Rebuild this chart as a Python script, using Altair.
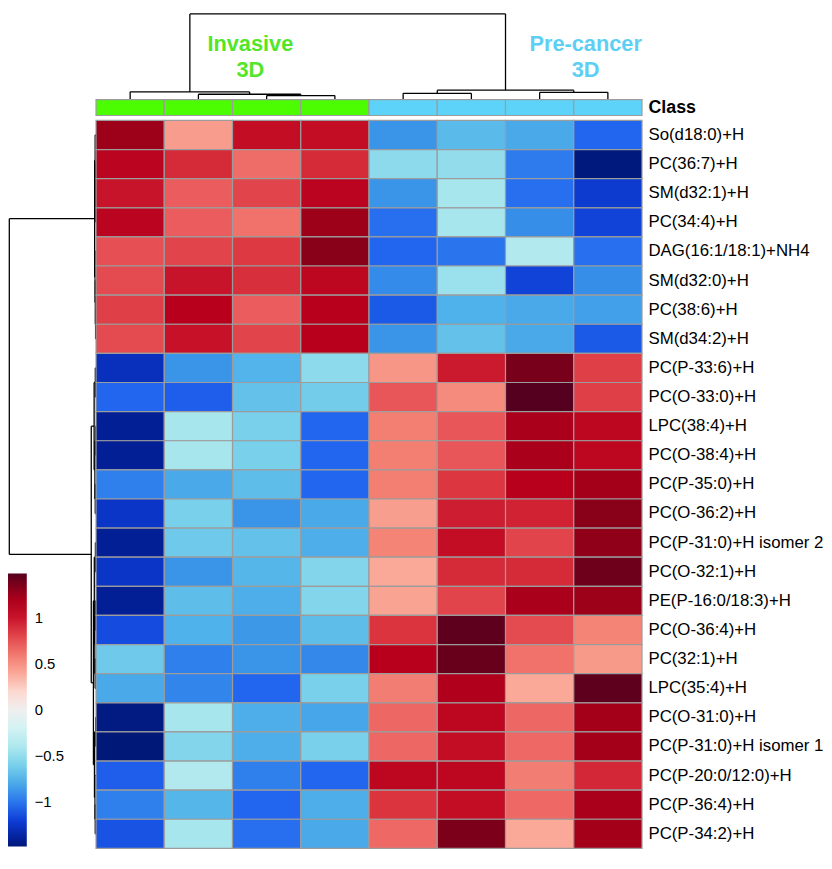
import altair as alt
import pandas as pd

# ---------------- data ----------------
features = ["So(d18:0)+H", "PC(36:7)+H", "SM(d32:1)+H", "PC(34:4)+H",
            "DAG(16:1/18:1)+NH4", "SM(d32:0)+H", "PC(38:6)+H", "SM(d34:2)+H",
            "PC(P-33:6)+H", "PC(O-33:0)+H", "LPC(38:4)+H", "PC(O-38:4)+H",
            "PC(P-35:0)+H", "PC(O-36:2)+H", "PC(P-31:0)+H isomer 2", "PC(O-32:1)+H",
            "PE(P-16:0/18:3)+H", "PC(O-36:4)+H", "PC(32:1)+H", "LPC(35:4)+H",
            "PC(O-31:0)+H", "PC(P-31:0)+H isomer 1", "PC(P-20:0/12:0)+H",
            "PC(P-36:4)+H", "PC(P-34:2)+H"]

samples = ["Inv3D_1", "Inv3D_2", "Inv3D_3", "Inv3D_4",
           "Pre3D_1", "Pre3D_2", "Pre3D_3", "Pre3D_4"]
sample_class = ["Invasive 3D"] * 4 + ["Pre-cancer 3D"] * 4
class_names = ["Invasive 3D", "Pre-cancer 3D"]

invasive_1 = [1.25, 1.12, 1.00, 1.12, 0.76, 0.78, 0.82, 0.78, -1.28, -1.05, -1.40, -1.40, -0.97,
              -1.25, -1.40, -1.25, -1.40, -1.15, -0.64, -0.80, -1.45, -1.48, -1.08, -0.97, -1.12]
invasive_2 = [0.45, 0.90, 0.72, 0.72, 0.80, 1.00, 1.15, 1.02, -0.90, -1.08, -0.42, -0.42, -0.80,
              -0.60, -0.64, -0.90, -0.70, -0.76, -0.97, -0.95, -0.42, -0.56, -0.38, -0.74, -0.42]
invasive_3 = [1.05, 0.65, 0.80, 0.63, 0.84, 0.88, 0.72, 0.80, -0.75, -0.68, -0.60, -0.60, -0.70,
              -0.90, -0.68, -0.74, -0.78, -0.88, -0.90, -1.05, -0.78, -0.78, -0.97, -1.05, -1.02]
invasive_4 = [1.05, 0.90, 1.12, 1.25, 1.32, 1.10, 1.15, 1.15, -0.52, -0.62, -1.05, -1.05, -1.05,
              -0.80, -0.78, -0.56, -0.56, -0.70, -0.94, -0.60, -0.82, -0.60, -1.05, -0.78, -0.80]
precancer_1 = [-0.90, -0.52, -0.90, -1.02, -1.05, -0.93, -1.10, -0.90, 0.48, 0.74, 0.57, 0.57, 0.57,
               0.44, 0.55, 0.40, 0.42, 0.86, 1.15, 0.58, 0.68, 0.68, 1.10, 0.86, 0.67]
precancer_2 = [-0.72, -0.50, -0.42, -0.42, -1.00, -0.47, -0.76, -0.68, 0.98, 0.52, 0.74, 0.74, 0.85,
               0.96, 1.05, 0.90, 0.80, 1.45, 1.42, 1.18, 1.10, 1.05, 1.10, 1.05, 1.36]
precancer_3 = [-0.80, -0.98, -1.02, -0.92, -0.38, -1.18, -0.80, -0.80, 1.37, 1.48, 1.20, 1.20, 1.15,
               0.94, 0.80, 0.90, 1.20, 0.78, 0.63, 0.40, 0.68, 0.67, 0.58, 0.67, 0.40]
precancer_4 = [-1.05, -1.47, -1.22, -1.18, -1.02, -0.92, -0.85, -1.10, 0.82, 0.82, 1.10, 1.10, 1.22,
               1.32, 1.30, 1.40, 1.25, 0.55, 0.46, 1.45, 1.22, 1.22, 0.92, 1.20, 1.22]
sample_values = [invasive_1, invasive_2, invasive_3, invasive_4,
                 precancer_1, precancer_2, precancer_3, precancer_4]

# column dendrogram (linkage: leaves 0..7, merge k creates node 8+k)
col_left = [2, 1, 0, 4, 6, 11, 10]
col_right = [3, 8, 9, 5, 7, 12, 13]
col_height = [0.47, 0.63, 0.91, 0.74, 0.85, 1.11, 10.0]

# row dendrogram (leaves 0..24, merge k creates node 25+k)
row_left = [2, 1, 0, 6, 5, 4, 27, 8, 10, 12, 33, 32, 14, 16, 18, 38, 37, 20, 23, 22, 42, 41, 36, 31]
row_right = [3, 25, 26, 7, 28, 29, 30, 9, 11, 13, 34, 35, 15, 17, 19, 39, 40, 21, 24, 43, 44, 45, 46, 47]
row_height = [0.04, 0.07, 0.10, 0.05, 0.08, 0.11, 0.16, 0.08, 0.03, 0.09, 0.13, 0.22,
              0.07, 0.08, 0.10, 0.14, 0.20, 0.04, 0.09, 0.12, 0.18, 0.30, 0.55, 10.0]

# ---------------- styles ----------------
cmap_stops = [-1.48, -1.35, -1.2, -1.05, -0.9, -0.75, -0.6, -0.4, -0.15, 0.0,
              0.2, 0.4, 0.55, 0.7, 0.85, 1.0, 1.15, 1.3, 1.48]
cmap_colors = ["#001878", "#0424a8", "#0e3ed6", "#2266f0", "#3a94e8", "#52b4ea", "#78d0ea",
               "#ade8ee", "#dcf4f4", "#efefef", "#fcd8d0", "#faa898", "#f48476", "#ec6262",
               "#dc3640", "#c8142a", "#b8001c", "#900018", "#54001e"]
class_colors = ["#4cfc00", "#5dd3fa"]
class_text_colors = ["#52e626", "#5ecff4"]
grid_col = "#9c9c9c"
FONT = "Liberation Sans"

W = 552      # heatmap width
Wl = 89      # left dendrogram width
Hd = 88      # top dendrogram height
Hc = 16      # class bar height
GAP = 5
H = 736      # heatmap height
nrow = len(features)
ncol = len(samples)
rowh = H / nrow
T = Hd + Hc + GAP + H
legend_top = round(15.55 * rowh)   # colour bar starts level with row ~15.5


def dendro_segments(n, left, right, height):
    pos = {i: i + 0.5 for i in range(n)}
    hgt = {i: 0.0 for i in range(n)}
    segs = []
    for k, (a, b, h) in enumerate(zip(left, right, height)):
        segs.append(dict(p1=pos[a], p2=pos[b], h1=h, h2=h))
        segs.append(dict(p1=pos[a], p2=pos[a], h1=hgt[a], h2=h))
        segs.append(dict(p1=pos[b], p2=pos[b], h1=hgt[b], h2=h))
        pos[n + k] = (pos[a] + pos[b]) / 2
        hgt[n + k] = h
    return pd.DataFrame(segs)


# long table for heatmap
rows = []
for j, (s, vals) in enumerate(zip(samples, sample_values)):
    for i, (f, v) in enumerate(zip(features, vals)):
        rows.append(dict(feature=f, sample=s, c0=j, c1=j + 1, value=v))
heat_df = pd.DataFrame(rows)

class_df = pd.DataFrame(dict(sample=samples, cls=sample_class,
                             c0=list(range(ncol)), c1=list(range(1, ncol + 1)),
                             lab=["Class"] * ncol))

grp = class_df.assign(mid=lambda d: (d.c0 + d.c1) / 2).groupby("cls", as_index=False)["mid"].mean()
grp["label"] = grp["cls"].str.replace(" ", "\n")

col_seg = dendro_segments(ncol, col_left, col_right, col_height)
row_seg = dendro_segments(nrow, row_left, row_right, row_height)

xcol = alt.Scale(domain=[0, ncol], nice=False, zero=False)

# ---------------- top dendrogram ----------------
top_rules = alt.Chart(col_seg).mark_rule(color="black", strokeWidth=1.3).encode(
    x=alt.X("p1:Q", scale=xcol, axis=None),
    x2="p2:Q",
    y=alt.Y("h1:Q", scale=alt.Scale(domain=[0, 10.15], nice=False, zero=False), axis=None),
    y2="h2:Q",
)


def group_text(name, color, dx):
    return alt.Chart(grp[grp.cls == name]).mark_text(
        font=FONT, fontSize=22, fontWeight="bold", color=color, lineBreak="\n",
        lineHeight=26, align="center", baseline="middle", dx=dx
    ).encode(
        x=alt.X("mid:Q", scale=xcol, axis=None),
        y=alt.value(32),
        text="label:N",
    )


top = alt.layer(
    top_rules,
    group_text(class_names[0], class_text_colors[0], 18),
    group_text(class_names[1], class_text_colors[1], 81),
).properties(width=W, height=Hd)

# ---------------- class bar (band sits at top of its panel, gap below) ----------------
pad_outer = ((Hc + GAP) / Hc - 1) / 2
classbar = alt.Chart(class_df).mark_rect(stroke=grid_col, strokeWidth=1.2).encode(
    x=alt.X("c0:Q", scale=xcol, axis=None),
    x2="c1:Q",
    y=alt.Y("lab:N", scale=alt.Scale(paddingInner=0, paddingOuter=pad_outer, align=0),
            axis=alt.Axis(orient="right", title=None, ticks=False, domain=False,
                          labelFontSize=18, labelFontWeight="bold", labelPadding=6,
                          labelColor="black", labelFont=FONT)),
    color=alt.Color("cls:N", scale=alt.Scale(domain=class_names, range=class_colors), legend=None),
).properties(width=W, height=Hc + GAP)

# ---------------- heatmap ----------------
heat = alt.Chart(heat_df).mark_rect(stroke=grid_col, strokeWidth=1.2).encode(
    x=alt.X("c0:Q", scale=xcol, axis=None),
    x2="c1:Q",
    y=alt.Y("feature:N", sort=features, scale=alt.Scale(paddingInner=0, paddingOuter=0),
            axis=alt.Axis(orient="right", title=None, ticks=False, domain=False,
                          labelFontSize=17, labelPadding=6, labelLimit=400,
                          labelColor="black", labelFont=FONT)),
    color=alt.Color("value:Q",
                    scale=alt.Scale(domain=cmap_stops, range=cmap_colors, interpolate="rgb"),
                    legend=alt.Legend(orient="none", legendX=-Wl, legendY=legend_top,
                                      direction="vertical", title=None,
                                      gradientLength=276, gradientThickness=19,
                                      gradientStrokeWidth=0,
                                      values=[-1, -0.5, 0, 0.5, 1], format="~g",
                                      labelFontSize=15, labelOffset=8, labelFont=FONT,
                                      labelColor="black", padding=0)),
).properties(width=W, height=H)

# ---------------- left dendrogram ----------------
ydom0 = -(Hd + Hc + GAP) / rowh
left = alt.Chart(row_seg).mark_rule(color="black", strokeWidth=1.3).encode(
    y=alt.Y("p1:Q", scale=alt.Scale(domain=[ydom0, nrow], nice=False, zero=False, reverse=True),
            axis=None),
    y2="p2:Q",
    x=alt.X("h1:Q", scale=alt.Scale(domain=[0, 10.15], nice=False, zero=False, reverse=True),
            axis=None),
    x2="h2:Q",
).properties(width=Wl, height=T)

right = alt.vconcat(top, classbar, heat, spacing=0, bounds="flush")
chart = alt.hconcat(left, right, spacing=0, bounds="flush").properties(padding=0).configure(
    font=FONT
).configure_view(stroke=None)

chart.save("out.html", embed_options={"renderer": "svg", "actions": False})
